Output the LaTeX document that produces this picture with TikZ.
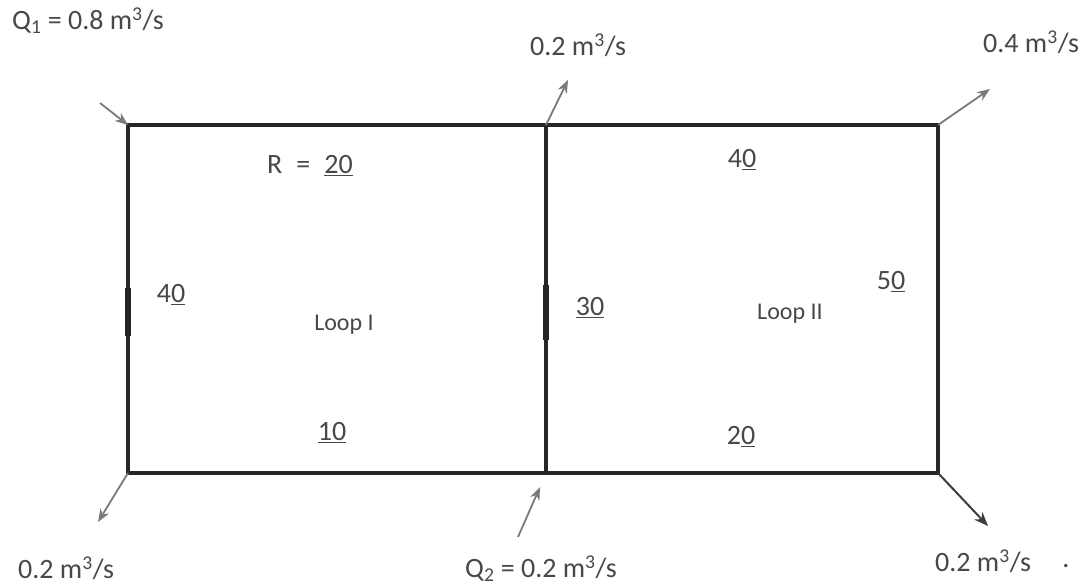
\documentclass[tikz,border=0pt]{standalone}
\usepackage{fontspec}
\setmainfont{Carlito}
\usetikzlibrary{arrows.meta}
\definecolor{txt}{HTML}{484848}
\definecolor{pipe}{HTML}{262626}
\definecolor{flow}{HTML}{7A7A7A}
\tikzset{
  pipeline/.style={draw=pipe, line width=3.4pt},
  flowarrow/.style={draw=flow, line width=1.8pt, -{Stealth[length=13pt,width=10pt]}},
  flowdark/.style={draw=pipe!90, line width=2pt, -{Stealth[length=14pt,width=11pt]}},
  lbl/.style={text=txt, font=\fontsize{24}{28}\selectfont, inner sep=0pt},
  nlbl/.style={text=txt, font=\fontsize{28}{32}\selectfont, inner sep=0pt},
  qlbl/.style={text=txt, font=\fontsize{28}{32}\selectfont, inner sep=0pt},
}
\newcommand{\cub}{m\textsuperscript{3}/s}
\begin{document}
\begin{tikzpicture}[x=1pt,y=-1pt]
\useasboundingbox (0,0) rectangle (1088,588);
\fill[white] (0,0) rectangle (1088,588);
% junctions
\coordinate (A) at (128,125);
\coordinate (B) at (546,125);
\coordinate (C) at (938,125);
\coordinate (D) at (128,473);
\coordinate (E) at (546,473);
\coordinate (F) at (938,473);
% pipes
\draw[pipeline, line cap=rect] (A) -- (C) -- (F) -- (D) -- cycle;
\draw[pipeline] (B) -- (E);
\coordinate (l1) at (128,288); \coordinate (l2) at (128,336);
\coordinate (m1) at (546,285); \coordinate (m2) at (546,340);
\draw[draw=pipe, line width=5.4pt] (l1) -- (l2);
\draw[draw=pipe, line width=5.4pt] (m1) -- (m2);
% flow arrow ends
\coordinate (qa) at (100,103);
\coordinate (qb) at (568,80);
\coordinate (qc) at (990,89);
\coordinate (qd) at (98,522);
\coordinate (qe) at (518,537);
\coordinate (qe2) at (540,487);
\coordinate (qf) at (988,526);
\draw[flowarrow] (qa) -- (A);
\draw[flowarrow] (B) -- (qb);
\draw[flowarrow] (C) -- (qc);
\draw[flowarrow] (D) -- (qd);
\draw[flowarrow] (qe) -- (qe2);
\draw[flowdark] (F) -- (qf);
% flow labels
\node[qlbl, anchor=west] (tQ1) at (12,21) {Q\textsubscript{1} = 0.8 \cub};
\node[qlbl, anchor=west] (tQb) at (530,45) {0.2 \cub};
\node[qlbl, anchor=west] (tQc) at (983,42) {0.4 \cub};
\node[qlbl, anchor=west] (tQd) at (18,568) {0.2 \cub};
\node[qlbl, anchor=west] (tQe) at (465,569) {Q\textsubscript{2} = 0.2 \cub};
\node[qlbl, anchor=west] (tQf) at (935,561) {0.2 \cub};
\node[qlbl] (dot) at (1066,566) {.};
% resistances
\node[nlbl] (r1) at (310,166) {R\enspace=\enspace\underline{20}};
\node[nlbl] (r2) at (742,160) {4\underline{0}};
\node[nlbl] (r3) at (171,295) {4\underline{0}};
\node[nlbl] (r4) at (590,308) {\underline{30}};
\node[nlbl] (r5) at (891,282) {5\underline{0}};
\node[nlbl] (r6) at (332,433) {\underline{10}};
\node[nlbl] (r7) at (741,437) {2\underline{0}};
\node[lbl] (loop1) at (344,325) {Loop I};
\node[lbl] (loop2) at (790,314) {Loop II};
\end{tikzpicture}
\end{document}
